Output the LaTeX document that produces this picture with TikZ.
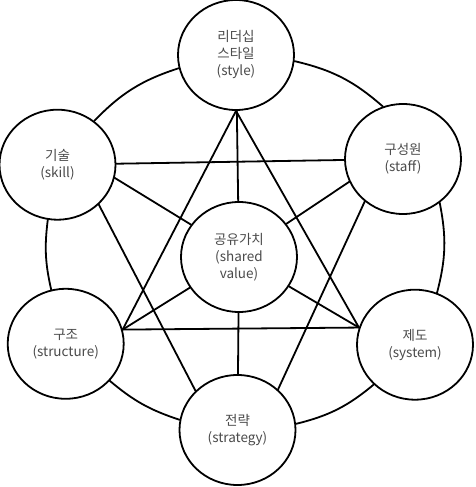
\documentclass[tikz,border=0pt]{standalone}
\usepackage{fontspec}
\newfontfamily\kr{Noto Sans CJK KR}
\usetikzlibrary{shapes.geometric}
\definecolor{txt}{RGB}{75,75,75}
\begin{document}
\begin{tikzpicture}[x=1pt,y=1pt,
  unit/.style={ellipse, draw, line width=1.8pt, fill=white, minimum width=116pt, minimum height=110pt, inner sep=0pt, align=center, font=\kr\fontsize{13.5}{17}\selectfont, text=txt},
  link/.style={line width=1.8pt, line cap=round}]
\useasboundingbox (0,0) rectangle (475,487);
\node[unit] (style) at (236,432) {리더십\\스타일\\(style)};
\node[unit] (skill) at (57.5,322.3) {기술\\(skill)};
\node[unit] (staff) at (403,328) {구성원\\(staff)};
\node[unit] (shared) at (239,230) {공유가치\\(shared\\value)};
\node[unit] (structure) at (65.7,143.2) {구조\\(structure)};
\node[unit] (system) at (415,142.3) {제도\\(system)};
\node[unit] (strategy) at (237.5,57) {전략\\(strategy)};
% outer ring
\draw[link] (style.193) to[bend right=14] (skill.50);
\draw[link] (staff.111) to[bend right=14] (style.-6);
\draw[link] (skill.-100) to[bend right=10] (structure.105);
\draw[link] (structure.-40) to[bend right=11] (strategy.170);
\draw[link] (strategy.6) to[bend right=13] (system.224);
\draw[link] (system.67) to[bend right=13] (staff.-50);
% inner links
\draw[link] (skill) -- (staff);
\draw[link] (style.south) -- (structure.14);
\draw[link] (style.south) -- (system.163);
\draw[link] (structure.14) -- (system.163);
\draw[link] (style) -- (shared);
\draw[link] (shared) -- (strategy);
\draw[link] (skill.-13) -- (shared.146);
\draw[link] (shared.35) -- (staff.203);
\draw[link] (skill.-44) -- (strategy.137);
\draw[link] (staff.228) -- (strategy.45);
\draw[link] (structure.14) -- (shared);
\draw[link] (system.163) -- (shared);
\end{tikzpicture}
\end{document}
